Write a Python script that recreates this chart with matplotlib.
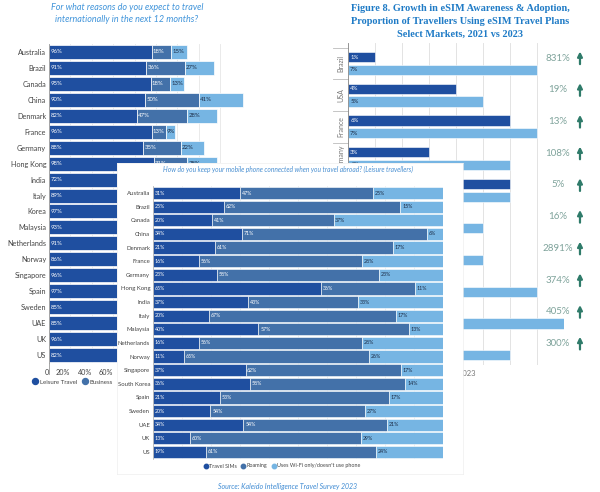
import matplotlib
matplotlib.use('Agg')
import matplotlib.pyplot as plt
import numpy as np
from matplotlib.lines import Line2D
from matplotlib.patches import Patch

nan = np.nan

# ---------------- data: left chart (travel reasons) ----------------
reason_countries = ['Australia', 'Brazil', 'Canada', 'China', 'Denmark', 'France',
                    'Germany', 'Hong Kong', 'India', 'Italy', 'Korea', 'Malaysia',
                    'Netherlands', 'Norway', 'Singapore', 'Spain', 'Sweden', 'UAE',
                    'UK', 'US']
leisure = [96, 91, 95, 90, 82, 96, 88, 98, 72, 89, 97, 93, 91, 86, 96, 97, 85, 85, 96, 82]
business = [18, 36, 18, 50, 47, 13, 35, 31] + [nan] * 12
other_reason = [15, 27, 13, 41, 28, 9, 22, 28] + [nan] * 12
reason_series = ['Leisure Travel', 'Business']
reason_ticks = [0, 20, 40, 60, 80, 100, 120, 140, 160, 180]
reason_ticklabels = ['0', '20%', '40%', '60%', '', '', '', '', '', '']

# ---------------- data: right chart (eSIM adoption) ----------------
markets = ['Brazil', 'USA', 'France', 'Germany', '', '', '', '', '', '']
esim_2021 = [1, 4, 6, 3, 6, 4, 0.2, 1.5, 1.6, 1.5]
esim_2023 = [7, 5, 7, 6, 6, 5, 5, 7, 8, 6]
growth = ['831%', '19%', '13%', '108%', '5%', '16%', '2891%', '374%', '405%', '300%']
year_labels = ['2021', '2023']

# ---------------- data: centre chart (connectivity) ----------------
conn_countries = ['Australia', 'Brazil', 'Canada', 'China', 'Denmark', 'France', 'Germany',
                  'Hong Kong', 'India', 'Italy', 'Malaysia', 'Netherlands', 'Norway',
                  'Singapore', 'South Korea', 'Spain', 'Sweden', 'UAE', 'UK', 'US']
travel_sims = [31, 25, 20, 34, 21, 16, 23, 65, 37, 20, 40, 16, 11, 37, 36, 21, 20, 34, 13, 19]
roaming = [47, 62, 41, 71, 61, 56, 58, 36, 43, 67, 57, 56, 65, 62, 58, 53, 54, 54, 60, 61]
wifi_only = [25, 15, 37, 6, 17, 28, 23, 11, 33, 17, 13, 28, 26, 17, 14, 17, 27, 21, 29, 24]
conn_series = ['Travel SIMs', 'Roaming', "Uses Wi-Fi only/doesn't use phone"]

# ---------------- style ----------------
W, H = 600, 492
DARK = '#1f4fa0'
MID = '#4371a9'
LIGHT = '#76b5e3'
GRAY = '#444444'
FONT = ['Lato', 'DejaVu Sans']
plt.rcParams['font.family'] = FONT

fig = plt.figure(figsize=(W / 100, H / 100), dpi=100)
fig.patch.set_facecolor('white')


def box(l, t, r, b):
    return [l / W, 1 - b / H, (r - l) / W, (b - t) / H]


# ================= left chart =================
axL = fig.add_axes(box(49, 44, 241.6, 363))
axL.set_zorder(0)
yL = np.arange(len(reason_countries))
lei = np.array(leisure, float)
bus = np.array(business, float)
oth = np.array(other_reason, float)
axL.barh(yL, lei, height=0.88, color=DARK, edgecolor='white', linewidth=0.5, zorder=2)
axL.barh(yL, bus, left=lei, height=0.88, color=MID, edgecolor='white', linewidth=0.5, zorder=2)
axL.barh(yL, oth, left=lei + np.nan_to_num(bus), height=0.88, color=LIGHT,
         edgecolor='white', linewidth=0.5, zorder=2, clip_on=False)
for i in range(len(yL)):
    axL.text(1.2, i, f'{leisure[i]:g}%', color='white', fontsize=4.3, va='center', zorder=3)
    if not np.isnan(bus[i]):
        axL.text(lei[i] + 1.2, i, f'{business[i]:g}%', color='white', fontsize=4.3,
                 va='center', zorder=3)
    if not np.isnan(oth[i]):
        axL.text(lei[i] + bus[i] + 1.2, i, f'{other_reason[i]:g}%', color='#1b2a44',
                 fontsize=4.3, va='center', zorder=3)
axL.set_xlim(0, 180)
axL.set_ylim(len(yL) - 0.5, -0.5)
axL.set_yticks(yL)
axL.set_yticklabels(reason_countries, fontsize=5.2, color=GRAY)
axL.set_xticks(reason_ticks)
axL.set_xticklabels(reason_ticklabels, fontsize=5.2, color=GRAY, ha='right')
axL.tick_params(length=0, pad=2)
axL.tick_params(axis='x', pad=4)
axL.grid(axis='x', color='#e6e6e6', linewidth=0.6, zorder=0)
axL.set_axisbelow(True)
for s in ['top', 'right', 'bottom']:
    axL.spines[s].set_visible(False)
axL.spines['left'].set_color('#999999')
axL.spines['left'].set_linewidth(0.6)
axL.plot([0, 0], [0, -0.035], transform=axL.transAxes, color='#999999', lw=0.6, clip_on=False)

handlesL = [Line2D([], [], marker='o', linestyle='none', markersize=4.3,
                   markerfacecolor=c, markeredgecolor=c) for c in [DARK, MID]]
legL = fig.legend(handlesL, reason_series, loc='center left', bbox_to_anchor=(33 / W, 1 - 382 / H),
                  frameon=False, ncol=2, fontsize=4.4, handlelength=0.7, handletextpad=0.5,
                  columnspacing=0.8, borderpad=0, borderaxespad=0, labelcolor=GRAY)
legL.set_zorder(1)

fig.text(127 / W, 1 - 13.5 / H,
         'For what reasons do you expect to travel\ninternationally in the next 12 months?',
         ha='center', va='center', fontsize=6.5, style='italic', color='#4094da',
         linespacing=1.55)

# ================= right chart =================
gap = 31.7
top_c = 63.5
axR = fig.add_axes(box(348, 43, 564, 365))
axR.set_zorder(0)
yR = np.arange(len(markets))
axR.barh(yR - 0.2, esim_2021, height=0.32, color=DARK, edgecolor='white', linewidth=0.4, zorder=2)
axR.barh(yR + 0.2, esim_2023, height=0.32, color=LIGHT, edgecolor='white', linewidth=0.4, zorder=2)
for i in range(len(yR)):
    axR.text(0.08, i - 0.2, f'{esim_2021[i]:g}%', color='white', fontsize=4.3, va='center', zorder=3)
    axR.text(0.08, i + 0.2, f'{esim_2023[i]:g}%', color='#1b2a44', fontsize=4.3, va='center', zorder=3)
    axR.text(0.972, i - 0.17, growth[i], transform=axR.get_yaxis_transform(), ha='center',
             va='center', fontsize=7, color='#7fa39b')
    axR.annotate('', xy=(1.074, i - 0.38), xytext=(1.074, i + 0.02),
                 xycoords=axR.get_yaxis_transform(),
                 textcoords=axR.get_yaxis_transform(),
                 arrowprops=dict(arrowstyle='-|>', color='#2f7b6a', lw=1.6, mutation_scale=7,
                                 shrinkA=0, shrinkB=0), annotation_clip=False)
    axR.text(-0.033, i, markets[i], transform=axR.get_yaxis_transform(), rotation=90,
             ha='center', va='center', fontsize=5, color='#777777')
for i in range(len(yR)):
    axR.plot([-0.07, 0], [i - 0.5, i - 0.5], transform=axR.get_yaxis_transform(),
             color='#bbbbbb', lw=0.6, clip_on=False)
axR.set_xlim(0, 8)
axR.set_ylim((365 - top_c) / gap, (43 - top_c) / gap)
axR.set_xticks(np.arange(0, 9))
axR.set_xticklabels([])
axR.set_yticks([])
axR.tick_params(length=0)
axR.grid(axis='x', color='#e3e3e3', linewidth=0.7, zorder=0)
axR.set_axisbelow(True)
for s in ['top', 'right', 'bottom']:
    axR.spines[s].set_visible(False)
axR.spines['left'].set_color('#888888')
axR.spines['left'].set_linewidth(0.6)

handlesR = [Patch(facecolor=DARK), Patch(facecolor=LIGHT)]
legR = fig.legend(handlesR, year_labels, loc='center right', bbox_to_anchor=(476 / W, 1 - 373.5 / H),
                  frameon=False, ncol=2, fontsize=5.5, handlelength=0.8, handleheight=0.8,
                  handletextpad=0.4, columnspacing=1.0, borderpad=0, borderaxespad=0,
                  labelcolor='#777777')
legR.set_zorder(1)

fig.text(460 / W, 1 - 21.5 / H,
         'Figure 8. Growth in eSIM Awareness & Adoption,\n'
         'Proportion of Travellers Using eSIM Travel Plans\n'
         'Select Markets, 2021 vs 2023',
         ha='center', va='center', fontsize=7.4, fontweight='bold', color='#1f7bc6',
         family='Liberation Serif', linespacing=1.55)

# ================= centre overlay chart =================
axBox = fig.add_axes(box(117, 163, 463, 474))
axBox.set_zorder(5)
axBox.set_facecolor('white')
axBox.set_xticks([])
axBox.set_yticks([])
for s in axBox.spines.values():
    s.set_color('#eeeeee')
    s.set_linewidth(0.5)

axC = fig.add_axes(box(153, 186.2, 443, 458.8))
axC.set_zorder(6)
axC.patch.set_alpha(0)
sims = np.array(travel_sims, float)
roam = np.array(roaming, float)
wifi = np.array(wifi_only, float)
tot = sims + roam + wifi
f1, f2, f3 = sims / tot, roam / tot, wifi / tot
yC = np.arange(len(conn_countries))
axC.barh(yC, f1, height=0.9, color=DARK, edgecolor='white', linewidth=0.4, zorder=2)
axC.barh(yC, f2, left=f1, height=0.9, color=MID, edgecolor='white', linewidth=0.4, zorder=2)
axC.barh(yC, f3, left=f1 + f2, height=0.9, color=LIGHT, edgecolor='white', linewidth=0.4, zorder=2)
for i in range(len(yC)):
    axC.text(0.006, i, f'{travel_sims[i]}%', color='white', fontsize=3.8, va='center', zorder=3)
    axC.text(f1[i] + 0.006, i, f'{roaming[i]}%', color='white', fontsize=3.8, va='center', zorder=3)
    axC.text(f1[i] + f2[i] + 0.006, i, f'{wifi_only[i]}%', color='#1b2a44', fontsize=3.8,
             va='center', zorder=3)
axC.set_xlim(0, 1)
axC.set_ylim(len(yC) - 0.5, -0.5)
axC.set_yticks(yC)
axC.set_yticklabels(conn_countries, fontsize=4.3, color=GRAY)
axC.set_xticks(np.linspace(0, 1, 11))
axC.set_xticklabels([])
axC.tick_params(length=0, pad=2)
axC.grid(axis='x', color='#ededed', linewidth=0.6, zorder=0)
axC.set_axisbelow(True)
for s in ['top', 'right', 'bottom']:
    axC.spines[s].set_visible(False)
axC.spines['left'].set_color('#aaaaaa')
axC.spines['left'].set_linewidth(0.5)

handlesC = [Line2D([], [], marker='o', linestyle='none', markersize=3.2,
                   markerfacecolor=c, markeredgecolor=c) for c in [DARK, MID, LIGHT]]
legC = fig.legend(handlesC, conn_series, loc='center', bbox_to_anchor=(282 / W, 1 - 466 / H),
                  frameon=False, ncol=3, fontsize=3.9, handlelength=0.6, handletextpad=0.3,
                  columnspacing=0.9, borderpad=0, borderaxespad=0, labelcolor=GRAY)
legC.set_zorder(7)

tC = fig.text(288 / W, 1 - 169.5 / H,
              'How do you keep your mobile phone connected when you travel abroad? (Leisure travellers)',
              ha='center', va='center', fontsize=4.8, style='italic', color='#4a90d2')
tC.set_zorder(7)

fig.text(288 / W, 1 - 486 / H, 'Source: Kaleido Intelligence Travel Survey 2023',
         ha='center', va='center', fontsize=5, style='italic', color='#3f8bd3')

fig.savefig('out.png', dpi=100, facecolor='white')
